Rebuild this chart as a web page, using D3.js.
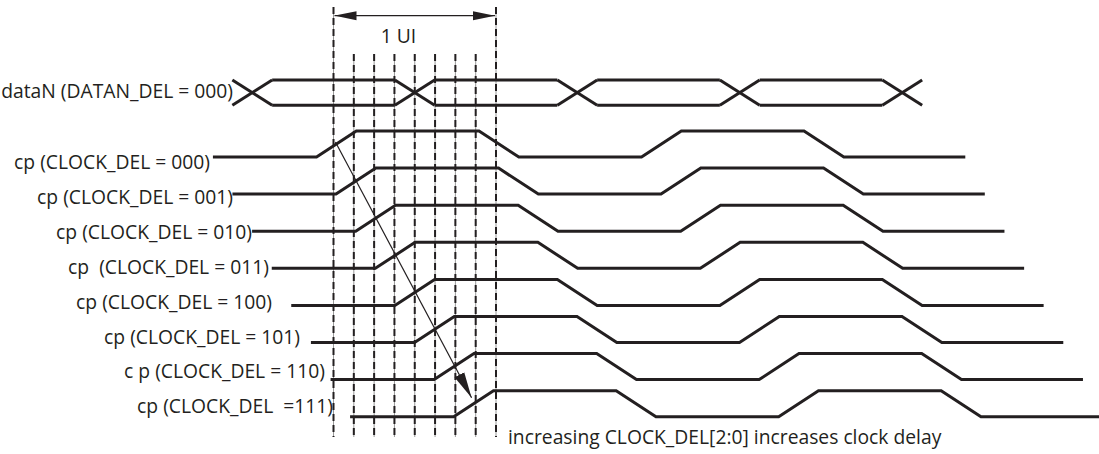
<!DOCTYPE html>
<html>
<head>
<meta charset="utf-8">
<script src="https://cdn.jsdelivr.net/npm/d3@7/dist/d3.min.js"></script>
<style>
  html, body { margin: 0; padding: 0; background: #fff; }
  svg { display: block; }
  text { font-family: "Open Sans", sans-serif; fill: #231f20; white-space: pre; }
</style>
</head>
<body>
<svg id="chart" width="1099" height="454"></svg>
<script>
// All times are in UI (unit intervals)
const dataLabel = 'dataN (DATAN_DEL = 000)';
const dataCrossings = [-0.5, 0.5, 1.5, 2.5, 3.5];
const clockLabels = [
  'cp (CLOCK_DEL = 000)',
  'cp (CLOCK_DEL = 001)',
  'cp (CLOCK_DEL = 010)',
  'cp  (CLOCK_DEL = 011)',
  'cp (CLOCK_DEL = 100)',
  'cp (CLOCK_DEL = 101)',
  'c p (CLOCK_DEL = 110)',
  'cp (CLOCK_DEL  =111)'
];
// rising edge of each delayed clock
const clockDelays = [0.018, 0.138, 0.259, 0.38, 0.5, 0.621, 0.742, 0.862];
// edges after the delay: rise, fall, rise, fall
const clockEdges = [0, 1, 2, 3];
const clockStart = -0.76, clockEnd = 3.87;
// the dashed delay taps across one UI
const delayTaps = [0, 0.125, 0.25, 0.375, 0.5, 0.625, 0.75, 0.875, 1];

// layout
const ink = '#231f20';
const fontSize = 19.3;
const edge = 0.245;          // rise / fall time in UI
const half = 13;             // half swing in px
const labelRight = [210, 233, 252, 269, 272, 300, 325, 333];

const svg = d3.select('#chart');

const x = d3.scaleLinear().domain([0, 1]).range([333.5, 496]);
const yRow = d3.scalePoint().domain(clockLabels).range([144, 403.7]);
const yLabel = d3.scalePoint().domain(clockLabels).range([169, 413.3]);
const yData = 92.7;

const line = d3.line().x(d => x(d[0])).y(d => d[1]);

// dashed tap lines
const taps = svg.append('g');
taps.selectAll('line.bg')
  .data(delayTaps)
  .join('line')
  .attr('class', 'bg')
  .attr('x1', d => x(d)).attr('x2', d => x(d))
  .attr('y1', (d, i) => (i === 0 || i === delayTaps.length - 1) ? 7 : 54)
  .attr('y2', 437)
  .attr('stroke', '#9a9a9a')
  .attr('stroke-width', 1);
taps.selectAll('line.fg')
  .data(delayTaps)
  .join('line')
  .attr('class', 'fg')
  .attr('x1', d => x(d)).attr('x2', d => x(d))
  .attr('y1', (d, i) => (i === 0 || i === delayTaps.length - 1) ? 7 : 54)
  .attr('y2', 437)
  .attr('stroke', ink)
  .attr('stroke-width', 2)
  .attr('stroke-dasharray', '7,4');

// arrow markers
const defs = svg.append('defs');
defs.append('marker')
  .attr('id', 'head')
  .attr('markerUnits', 'userSpaceOnUse')
  .attr('viewBox', '0 -5 22 10')
  .attr('refX', 22).attr('refY', 0)
  .attr('markerWidth', 22).attr('markerHeight', 10)
  .attr('orient', 'auto-start-reverse')
  .append('path')
  .attr('d', 'M0,-4.5L22,0L0,4.5Z')
  .attr('fill', ink);
defs.append('marker')
  .attr('id', 'bighead')
  .attr('markerUnits', 'userSpaceOnUse')
  .attr('viewBox', '0 -6 26 12')
  .attr('refX', 26).attr('refY', 0)
  .attr('markerWidth', 26).attr('markerHeight', 12)
  .attr('orient', 'auto')
  .append('path')
  .attr('d', 'M0,-5.5L26,0L0,5.5Z')
  .attr('fill', ink);

// 1 UI span
svg.append('line')
  .attr('x1', x(0) + 1).attr('x2', x(1) - 1)
  .attr('y1', 15.7).attr('y2', 15.7)
  .attr('stroke', ink).attr('stroke-width', 1.2)
  .attr('marker-start', 'url(#head)')
  .attr('marker-end', 'url(#head)');
svg.append('text')
  .attr('x', x(0.4)).attr('y', 42.5)
  .attr('text-anchor', 'middle')
  .attr('font-size', fontSize)
  .text('1 UI');

// data eye
const eyeTop = yData - half + 0.4, eyeBot = yData + half - 0.4;
const dataG = svg.append('g')
  .attr('fill', 'none').attr('stroke', ink).attr('stroke-width', 3);
dataCrossings.forEach((c, i) => {
  dataG.append('path').attr('d', line([[c - edge / 2, eyeTop], [c + edge / 2, eyeBot]]));
  dataG.append('path').attr('d', line([[c - edge / 2, eyeBot], [c + edge / 2, eyeTop]]));
  const next = dataCrossings[i + 1];
  if (next !== undefined) {
    dataG.append('path').attr('d', line([[c + edge / 2, eyeTop], [next - edge / 2, eyeTop]]));
    dataG.append('path').attr('d', line([[c + edge / 2, eyeBot], [next - edge / 2, eyeBot]]));
  }
});
svg.append('text')
  .attr('x', 233).attr('y', 97.5)
  .attr('text-anchor', 'end')
  .attr('font-size', fontSize)
  .text(dataLabel);

// delayed clocks
function clockPoints(d, yc) {
  const lo = yc + half, hi = yc - half;
  const pts = [[d + clockStart, lo]];
  clockEdges.forEach((e, i) => {
    const rising = i % 2 === 0;
    pts.push([d + e - edge / 2, rising ? lo : hi]);
    pts.push([d + e + edge / 2, rising ? hi : lo]);
  });
  pts.push([d + clockEnd, lo]);
  return pts;
}

svg.append('g')
  .selectAll('path')
  .data(clockLabels)
  .join('path')
  .attr('d', (l, i) => line(clockPoints(clockDelays[i], yRow(l))))
  .attr('fill', 'none')
  .attr('stroke', ink)
  .attr('stroke-width', 3)
  .attr('stroke-linejoin', 'miter');

svg.append('g')
  .selectAll('text')
  .data(clockLabels)
  .join('text')
  .attr('x', (l, i) => labelRight[i])
  .attr('y', l => yLabel(l))
  .attr('text-anchor', 'end')
  .attr('font-size', fontSize)
  .text(l => l);

// delay trend arrow
const first = clockLabels[0], last = clockLabels[clockLabels.length - 1];
svg.append('line')
  .attr('x1', x(clockDelays[0]) - 1).attr('y1', yRow(first) - 2)
  .attr('x2', x(clockDelays[clockDelays.length - 1]) - 2).attr('y2', yRow(last) - 6)
  .attr('stroke', ink).attr('stroke-width', 1.2)
  .attr('marker-end', 'url(#bighead)');

svg.append('text')
  .attr('x', 508).attr('y', 444)
  .attr('font-size', fontSize)
  .text('increasing CLOCK_DEL[2:0] increases clock delay');
</script>
</body>
</html>
